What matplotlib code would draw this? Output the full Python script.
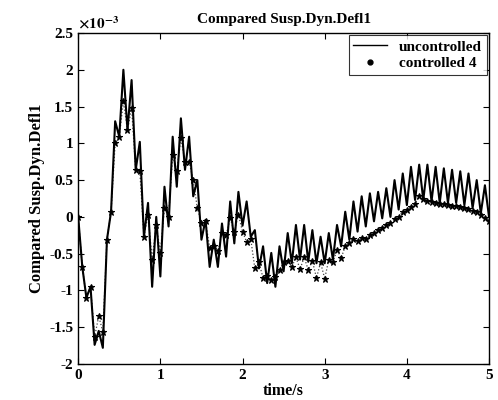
import numpy as np
import matplotlib
matplotlib.use("Agg")
import matplotlib.pyplot as plt
from matplotlib.lines import Line2D
from matplotlib.ticker import FuncFormatter

# time grid (s), sampling step 0.05 s
time_s = np.round(np.arange(0, 5.0001, 0.05), 2)

# values in units of 1e-3
uncontrolled = [
    0.00, -0.68, -1.10, -0.95, -1.74, -1.55, -1.78, -0.31, 0.07, 1.30,
    1.09, 2.00, 1.18, 1.86, 0.64, 1.02, -0.27, 0.19, -0.95, 0.00,
    -0.81, 0.41, -0.13, 1.09, 0.41, 1.34, 0.64, 1.09, 0.28, 0.50,
    -0.31, -0.04, -0.68, -0.31, -0.68, -0.09, -0.54, 0.21, -0.36, 0.34,
    -0.12, 0.21, -0.27, -0.18, -0.70, -0.40, -0.90, -0.49, -0.95, -0.40,
    -0.74, -0.22, -0.63, -0.11, -0.58, -0.11, -0.61, -0.18, -0.63, -0.27,
    -0.63, -0.22, -0.58, -0.11, -0.40, 0.07, -0.31, 0.21, -0.20, 0.28,
    -0.13, 0.32, -0.06, 0.34, -0.02, 0.39, 0.00, 0.50, 0.10, 0.59,
    0.16, 0.68, 0.23, 0.71, 0.23, 0.71, 0.21, 0.68, 0.19, 0.66,
    0.19, 0.64, 0.19, 0.62, 0.16, 0.59, 0.12, 0.50, 0.05, 0.43,
    0.00,
]

controlled4 = [
    0.00, -0.68, -1.10, -0.95, -1.63, -1.35, -1.56, -0.31, 0.07, 1.00,
    1.09, 1.57, 1.18, 1.48, 0.64, 0.62, -0.27, 0.03, -0.58, -0.11,
    -0.49, 0.12, 0.00, 0.84, 0.62, 1.07, 0.75, 0.75, 0.50, 0.12,
    -0.08, -0.06, -0.42, -0.40, -0.47, -0.22, -0.25, -0.02, -0.20, 0.03,
    -0.20, -0.34, -0.30, -0.70, -0.62, -0.83, -0.80, -0.86, -0.82, -0.72,
    -0.62, -0.60, -0.68, -0.55, -0.71, -0.55, -0.72, -0.60, -0.83, -0.62,
    -0.84, -0.58, -0.62, -0.45, -0.56, -0.40, -0.36, -0.30, -0.33, -0.29,
    -0.30, -0.25, -0.22, -0.18, -0.15, -0.11, -0.08, -0.03, 0.00, 0.07,
    0.10, 0.13, 0.18, 0.28, 0.24, 0.22, 0.20, 0.19, 0.18, 0.17,
    0.16, 0.15, 0.15, 0.13, 0.12, 0.11, 0.08, 0.06, 0.02, -0.02,
    -0.05,
]

x_ticks = [0, 1, 2, 3, 4, 5]
y_ticks = [-2, -1.5, -1, -0.5, 0, 0.5, 1, 1.5, 2, 2.5]

plt.rcParams['font.family'] = ['Liberation Serif', 'DejaVu Serif']
plt.rcParams['font.weight'] = 'bold'
plt.rcParams['axes.labelweight'] = 'bold'
plt.rcParams['mathtext.fontset'] = 'stix'

fig = plt.figure(figsize=(4.98, 4.0), dpi=100)
ax = fig.add_axes([0.157, 0.09, 0.825, 0.8275])

ax.plot(time_s, uncontrolled, color='black', lw=1.5, zorder=3)
ax.plot(time_s, controlled4, color='#444444', lw=0.9, ls=':', zorder=2)
ax.plot(time_s, controlled4, ls='none', marker='*', ms=4.8, mew=0.8,
        color='black', zorder=4)

ax.set_xlim(0, 5)
ax.set_ylim(-2, 2.5)
ax.set_xticks(x_ticks)
ax.set_yticks(y_ticks)
ax.yaxis.set_major_formatter(FuncFormatter(lambda v, p: '%g' % v))
ax.xaxis.set_major_formatter(FuncFormatter(lambda v, p: '%g' % v))

ax.text(0.0, 1.005, r'$\times10^{-3}$', transform=ax.transAxes,
        fontsize=11, ha='left', va='bottom')

ax.tick_params(direction='in', top=True, right=True, labelsize=11, length=4, width=0.8)
for lbl in ax.get_xticklabels() + ax.get_yticklabels():
    lbl.set_fontweight('bold')
for s in ax.spines.values():
    s.set_linewidth(1.0)

ax.set_title('Compared Susp.Dyn.Defl1', fontsize=11, fontweight='bold', pad=7)
ax.set_xlabel('time/s', fontsize=11.5, fontweight='bold', labelpad=1)
ax.set_ylabel('Compared Susp.Dyn.Defl1', fontsize=12, fontweight='bold', labelpad=3)

handles = [
    Line2D([], [], color='black', lw=1.0),
    Line2D([], [], ls='none', marker='.', ms=7, color='black'),
]
leg = ax.legend(handles, ['uncontrolled', 'controlled 4'], loc='upper right',
                prop={'size': 11, 'weight': 'bold'}, frameon=True, fancybox=False,
                edgecolor='black', borderaxespad=0.15, handlelength=2.2,
                borderpad=0.3, labelspacing=0.2, handletextpad=0.8)
leg.get_frame().set_linewidth(0.8)

fig.savefig('out.png', dpi=100)
